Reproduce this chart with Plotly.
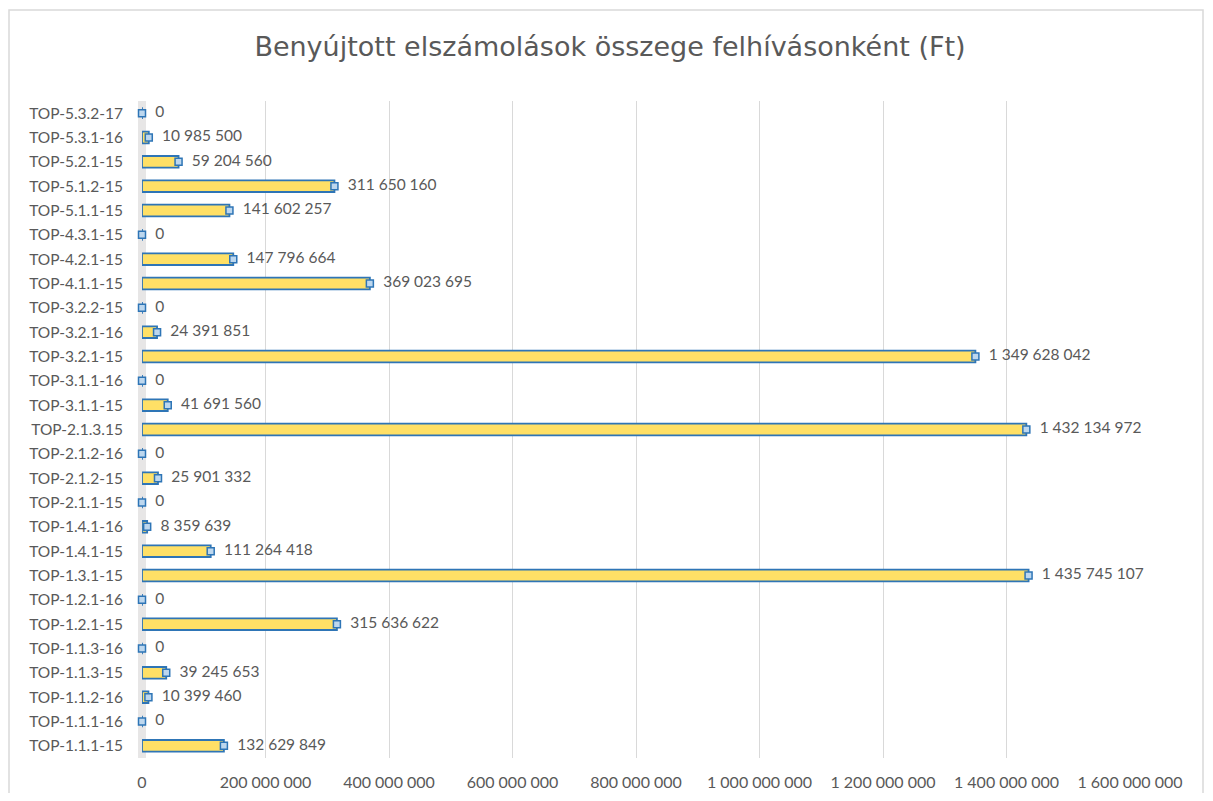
import plotly.graph_objects as go

categories = [
    "TOP-1.1.1-15", "TOP-1.1.1-16", "TOP-1.1.2-16", "TOP-1.1.3-15", "TOP-1.1.3-16",
    "TOP-1.2.1-15", "TOP-1.2.1-16", "TOP-1.3.1-15", "TOP-1.4.1-15", "TOP-1.4.1-16",
    "TOP-2.1.1-15", "TOP-2.1.2-15", "TOP-2.1.2-16", "TOP-2.1.3.15", "TOP-3.1.1-15",
    "TOP-3.1.1-16", "TOP-3.2.1-15", "TOP-3.2.1-16", "TOP-3.2.2-15", "TOP-4.1.1-15",
    "TOP-4.2.1-15", "TOP-4.3.1-15", "TOP-5.1.1-15", "TOP-5.1.2-15", "TOP-5.2.1-15",
    "TOP-5.3.1-16", "TOP-5.3.2-17",
]
values = [
    132629849, 0, 10399460, 39245653, 0,
    315636622, 0, 1435745107, 111264418, 8359639,
    0, 25901332, 0, 1432134972, 41691560,
    0, 1349628042, 24391851, 0, 369023695,
    147796664, 0, 141602257, 311650160, 59204560,
    10985500, 0,
]
tick_vals = [0, 200000000, 400000000, 600000000, 800000000, 1000000000, 1200000000, 1400000000, 1600000000]

def fmt(v):
    return f"{v:,}".replace(",", " ")

labels = ["\u00a0\u00a0" + fmt(v) for v in values]
tick_text = [fmt(v) for v in tick_vals]

# page has an 8px body margin; figure coordinates are page coordinates minus 8
OFF = 8
W, H = 1213 - 2 * OFF, 801 - 2 * OFF
ML, MT = 142 - OFF, 101 - OFF
MR = W - (1130 - OFF)
MB = H - (758 - OFF)
pw = W - ML - MR
ph = H - MT - MB

def px_x(p):
    return (p - OFF - ML) / pw

def px_y(p):
    return 1 - (p - OFF - MT) / ph

FONT = "Lato"
GREY = "#595959"

fig = go.Figure()
fig.add_trace(go.Bar(
    y=categories, x=values, orientation="h",
    marker=dict(color="#FFE066", line=dict(color="#2E75B6", width=1.8)),
    width=0.48,
    cliponaxis=False, showlegend=False, hoverinfo="skip",
))
# 3D end caps + value labels
fig.add_trace(go.Scatter(
    y=categories, x=values, mode="markers+text",
    marker=dict(symbol="square", size=7, color="#BDD7EE", line=dict(color="#2E75B6", width=1.5)),
    text=labels, textposition="middle right",
    textfont=dict(family=FONT, size=15.5, color=GREY),
    cliponaxis=False, showlegend=False, hoverinfo="skip",
))

fig.update_layout(
    width=W, height=H,
    margin=dict(l=ML, r=MR, t=MT, b=MB, autoexpand=False),
    paper_bgcolor="white", plot_bgcolor="white",
    title=dict(text="Benyújtott elszámolások összege felhívásonként (Ft)",
               xref="container", x=(610 - OFF) / W, xanchor="center",
               yref="container", y=1 - (47 - OFF) / H, yanchor="middle",
               font=dict(family="DejaVu Sans", size=27, color=GREY)),
    xaxis=dict(range=[0, 1600000000], tickvals=tick_vals, ticktext=tick_text,
               showgrid=True, gridcolor="#D9D9D9", gridwidth=1, zeroline=False,
               showline=False, ticks="", ticklabelstandoff=13, automargin=False,
               tickfont=dict(family=FONT, size=16, color=GREY)),
    yaxis=dict(categoryorder="array", categoryarray=categories, range=[-0.5, 26.5],
               showgrid=False, zeroline=False, showline=False, ticks="",
               ticklabelstandoff=18, automargin=False,
               tickfont=dict(family=FONT, size=15.5, color=GREY)),
    shapes=[
        dict(type="rect", xref="paper", yref="paper",
             x0=px_x(9), x1=px_x(1203), y0=px_y(840), y1=px_y(10),
             line=dict(color="#D9D9D9", width=1.5), fillcolor="rgba(0,0,0,0)", layer="below"),
        dict(type="rect", xref="paper", yref="paper",
             x0=px_x(138), x1=px_x(146), y0=px_y(758), y1=px_y(101),
             line=dict(width=0), fillcolor="#E7E6E6", layer="below"),
    ],
)

fig.write_html("out.html")
